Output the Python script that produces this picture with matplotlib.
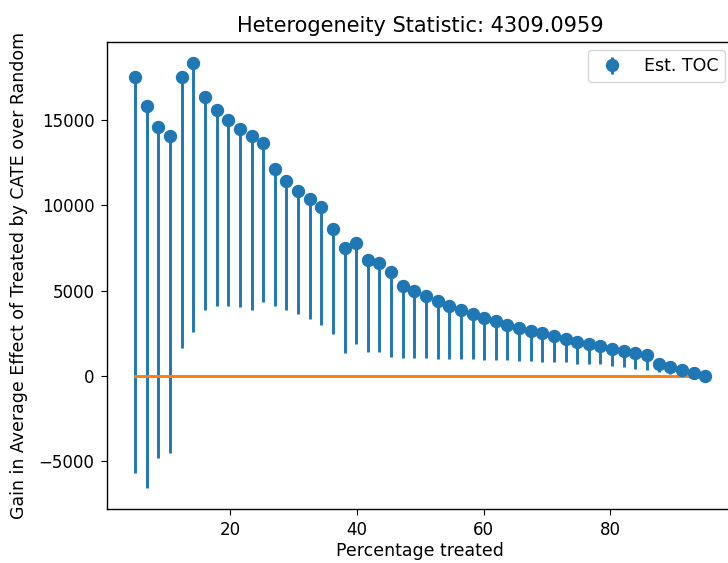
import numpy as np
import matplotlib
matplotlib.use("Agg")
import matplotlib.pyplot as plt

pct_treated = np.linspace(5, 95, 50)

toc = np.array([
    17540, 15840, 14610, 14080, 17560, 18360, 16370, 15620, 15020, 14490,
    14080, 13690, 12130, 11460, 10860, 10350, 9880, 8610, 7500, 7770,
    6800, 6600, 6110, 5290, 5000, 4670, 4410, 4120, 3890, 3630,
    3400, 3200, 3010, 2810, 2650, 2500, 2320, 2150, 2010, 1880,
    1740, 1580, 1440, 1350, 1250, 700, 500, 350, 180, 0])

lower = np.array([
    -5710, -6585, -4810, -4530, 1650, 2560, 3870, 4080, 4120, 4020,
    3870, 4310, 4080, 3870, 3630, 3340, 3010, 2460, 1320, 1880,
    1420, 1380, 1090, 1050, 1050, 1050, 1000, 1000, 960, 960,
    930, 930, 900, 860, 860, 820, 820, 800, 700, 680,
    680, 600, 500, 410, 350, 210, 120, 120, 60, 0])

title = "Heterogeneity Statistic: 4309.0959"

plt.rcParams['font.size'] = 12.5
plt.rcParams['xtick.labelsize'] = 12
plt.rcParams['ytick.labelsize'] = 12
plt.rcParams['xtick.major.size'] = 4.3
plt.rcParams['ytick.major.size'] = 4.3
plt.rcParams['xtick.major.pad'] = 4.0
plt.rcParams['ytick.major.pad'] = 4.5
plt.rcParams['axes.linewidth'] = 1.0

fig = plt.figure(figsize=(7.28, 5.63), dpi=100)
ax = fig.add_axes([0.1466, 0.0954, 1.0078 - 0.1466, 0.926 - 0.0954])

ax.errorbar(pct_treated, toc, yerr=[toc - lower, np.zeros_like(toc)],
            fmt='o', markersize=8.6, elinewidth=2.1, label='Est. TOC')
ax.plot([pct_treated[0], pct_treated[-1]], [0, 0], color='C1', linewidth=2.1)

ax.set_title(title, fontsize=15, pad=7)
ax.set_xlabel("Percentage treated", labelpad=2.5)
ax.set_ylabel("Gain in Average Effect of Treated by CATE over Random", labelpad=7.5)
ax.set_xticks([20, 40, 60, 80])
ax.legend(loc='upper right', fontsize=12.5)

fig.savefig("out.png", dpi=100)
